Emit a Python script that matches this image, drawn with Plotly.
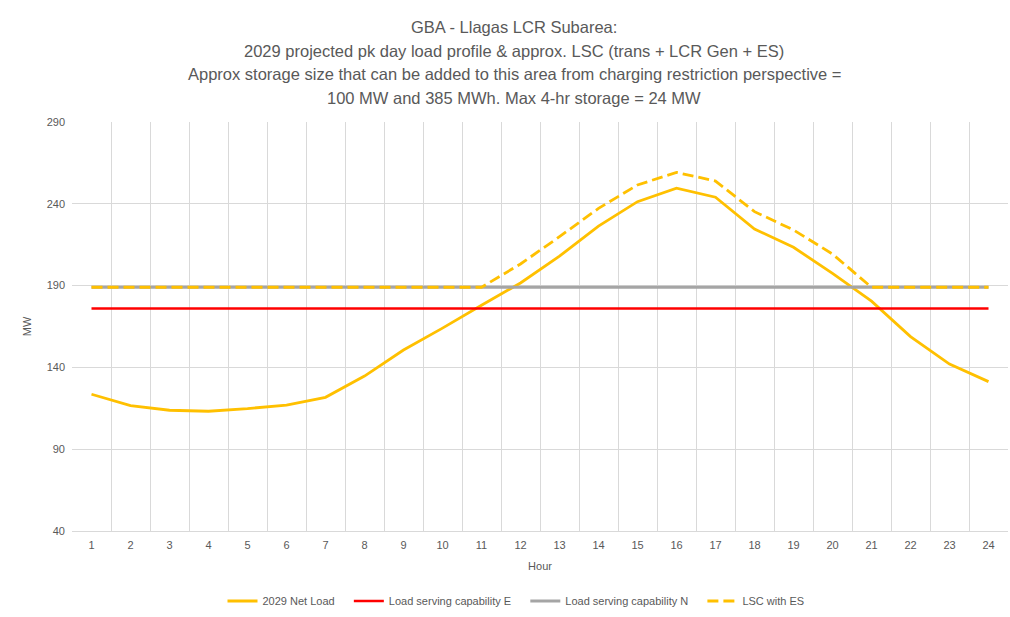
import plotly.graph_objects as go

hours = list(range(1, 25))
net_load = [123.6, 116.6, 113.8, 113.2, 114.8, 117.0, 121.7, 134.7, 150.6, 164.0, 178.0, 191.6,
            208.0, 226.4, 241.3, 249.5, 244.0, 224.6, 213.4, 197.5, 180.5, 158.8, 142.0, 131.3]
lsc_e = [176] * 24
lsc_n = [189] * 24
lsc_es = [189, 189, 189, 189, 189, 189, 189, 189, 189, 189, 189, 203.2,
          219.9, 237.2, 251.5, 259.2, 253.9, 235.2, 224.0, 209.3, 189, 189, 189, 189]

series_names = ["2029 Net Load", "Load serving capability E", "Load serving capability N", "LSC with ES"]

title_lines = [
    "GBA - Llagas LCR Subarea:",
    "2029 projected pk day load profile & approx. LSC (trans + LCR Gen + ES)",
    "Approx storage size that can be added to this area from charging restriction perspective =",
    "100 MW and 385 MWh. Max 4-hr storage = 24 MW",
]
title_y_px = [27, 50.5, 74, 97.5]

FONT = "Liberation Sans"
TXT = "#595959"
PLOT_TOP = 122
PAD = "\u00a0\u00a0\u00a0"

fig = go.Figure()
fig.add_trace(go.Scatter(x=hours, y=net_load, mode="lines", name=series_names[0] + PAD,
                         line=dict(color="#FFC000", width=2.8)))
fig.add_trace(go.Scatter(x=hours, y=lsc_e, mode="lines", name=series_names[1] + PAD,
                         line=dict(color="#FF0000", width=2.3)))
fig.add_trace(go.Scatter(x=hours, y=lsc_n, mode="lines", name=series_names[2] + PAD,
                         line=dict(color="#A5A5A5", width=3)))
fig.add_trace(go.Scatter(x=hours, y=lsc_es, mode="lines", name=series_names[3],
                         line=dict(color="#FFC000", width=2.8, dash="11px,5px")))

annotations = []
for line, ypx in zip(title_lines, title_y_px):
    annotations.append(dict(
        text=line, xref="paper", yref="paper", x=(514 - 72) / 936, y=1.0,
        yshift=PLOT_TOP - ypx, xanchor="center", yanchor="middle",
        showarrow=False, font=dict(size=16.5, color=TXT, family=FONT)))

fig.update_layout(
    width=1010, height=617,
    margin=dict(l=72, r=2, t=122, b=86),
    paper_bgcolor="white", plot_bgcolor="white",
    font=dict(family=FONT, color=TXT, size=11),
    showlegend=True,
    legend=dict(orientation="h", x=(516 - 72) / 936, xanchor="center", y=(531 - 601) / 409,
                yanchor="middle", font=dict(size=11, color=TXT), itemwidth=30, tracegroupgap=0),
    annotations=annotations,
    xaxis=dict(
        range=[0.5, 24.5], tickmode="array", tickvals=hours, ticktext=[str(h) for h in hours],
        showgrid=False, zeroline=False, showline=True, linecolor="#d9d9d9", linewidth=1,
        ticks="", tickfont=dict(size=11, color=TXT), ticklabelstandoff=4,
        minor=dict(tick0=0.5, dtick=1, showgrid=True, gridcolor="#d9d9d9", gridwidth=1, ticks=""),
        title=dict(text="Hour", font=dict(size=11, color=TXT), standoff=12),
        fixedrange=True,
    ),
    yaxis=dict(
        range=[40, 290], tickmode="array", tickvals=[40, 90, 140, 190, 240, 290],
        showgrid=True, gridcolor="#d9d9d9", gridwidth=1, zeroline=False, showline=False,
        ticks="", tickfont=dict(size=11, color=TXT), ticklabelstandoff=6,
        title=dict(text="MW", font=dict(size=11, color=TXT), standoff=12),
        fixedrange=True,
    ),
)

fig.write_html("out.html", config={"displayModeBar": False},
               post_script="document.body.style.margin='0';document.body.style.padding='0';")
